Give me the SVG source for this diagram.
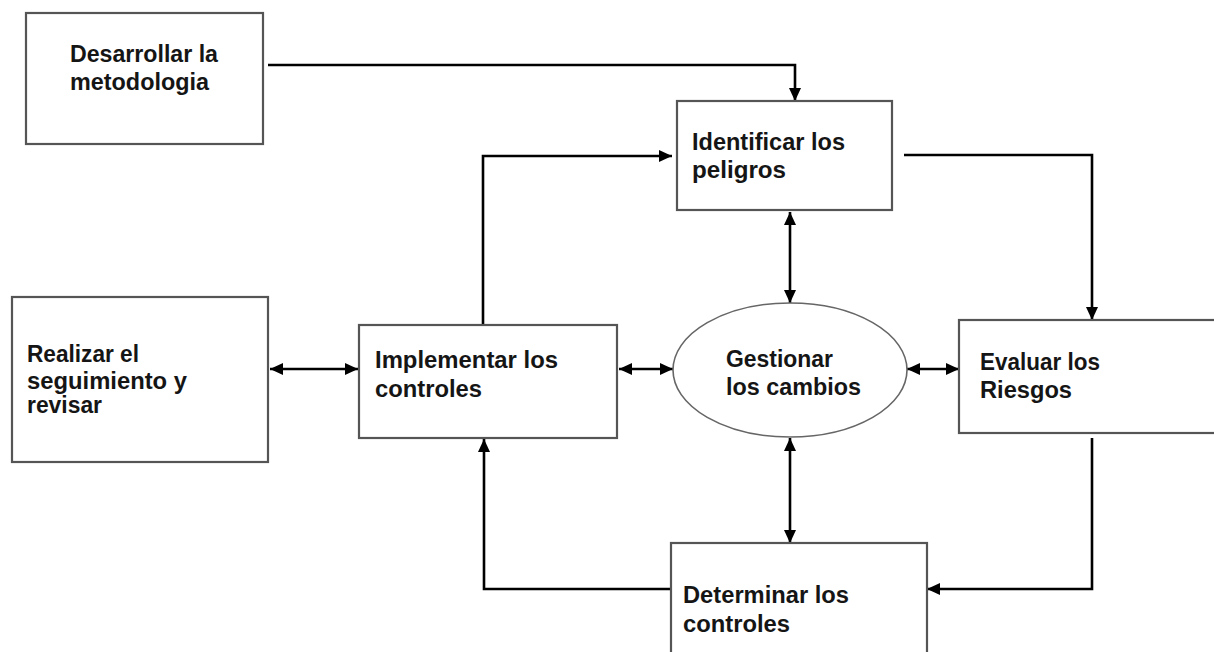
<svg xmlns="http://www.w3.org/2000/svg" width="1214" height="652" viewBox="0 0 1214 652">
<style>
.box{fill:#fff;stroke:#555;stroke-width:2.2}
.ell{fill:#fff;stroke:#666;stroke-width:1.6}
.t{font-family:"Liberation Sans",Arial,sans-serif;font-weight:bold;font-size:23px;fill:#151515}
.c{fill:none;stroke:#000;stroke-width:2.6}
.one{marker-end:url(#ah)}
.two{marker-start:url(#ah);marker-end:url(#ah)}
</style>
<defs>
<marker id="ah" viewBox="0 0 13 12" refX="13" refY="6" markerWidth="13" markerHeight="12" markerUnits="userSpaceOnUse" orient="auto-start-reverse">
<path d="M0,0 L13,6 L0,12 z" fill="#000"/>
</marker>
</defs>
<rect width="1214" height="652" fill="#fff"/>
<g id="connectors">
<path class="c one" d="M268,65 H795 V101"/>
<path class="c one" d="M483,325 V156 H672"/>
<path class="c one" d="M904,155 H1092 V320"/>
<path class="c one" d="M1092,438 V589 H927"/>
<path class="c one" d="M671,589 H484 V439"/>
<path class="c two" d="M790,212 V303"/>
<path class="c two" d="M790,438 V543"/>
<path class="c two" d="M619,369 H673"/>
<path class="c two" d="M907,369 H959"/>
<path class="c two" d="M270,369 H358"/>
</g>
<g id="n-desarrollar">
<rect class="box" x="26" y="13" width="237" height="131"/>
<text class="t" x="70" y="62" textLength="148" lengthAdjust="spacingAndGlyphs">Desarrollar la</text>
<text class="t" x="70" y="90" textLength="139" lengthAdjust="spacingAndGlyphs">metodologia</text>
</g>
<g id="n-identificar">
<rect class="box" x="677" y="101" width="215" height="109"/>
<text class="t" x="692" y="150" textLength="153" lengthAdjust="spacingAndGlyphs">Identificar los</text>
<text class="t" x="692" y="178" textLength="94" lengthAdjust="spacingAndGlyphs">peligros</text>
</g>
<g id="n-realizar">
<rect class="box" x="12" y="297" width="256" height="165"/>
<text class="t" x="27" y="362" textLength="112" lengthAdjust="spacingAndGlyphs">Realizar el</text>
<text class="t" x="27" y="389" textLength="160" lengthAdjust="spacingAndGlyphs">seguimiento y</text>
<text class="t" x="27" y="413" textLength="75" lengthAdjust="spacingAndGlyphs">revisar</text>
</g>
<g id="n-implementar">
<rect class="box" x="359" y="325" width="258" height="113"/>
<text class="t" x="375" y="368" textLength="183" lengthAdjust="spacingAndGlyphs">Implementar los</text>
<text class="t" x="375" y="397" textLength="107" lengthAdjust="spacingAndGlyphs">controles</text>
</g>
<g id="n-gestionar">
<ellipse class="ell" cx="790" cy="370" rx="117" ry="67"/>
<text class="t" x="726" y="367" textLength="107" lengthAdjust="spacingAndGlyphs">Gestionar</text>
<text class="t" x="726" y="395" textLength="135" lengthAdjust="spacingAndGlyphs">los cambios</text>
</g>
<g id="n-evaluar">
<rect class="box" x="959" y="320" width="270" height="113"/>
<text class="t" x="980" y="370" textLength="120" lengthAdjust="spacingAndGlyphs">Evaluar los</text>
<text class="t" x="980" y="398" textLength="92" lengthAdjust="spacingAndGlyphs">Riesgos</text>
</g>
<g id="n-determinar">
<rect class="box" x="671" y="543" width="256" height="130"/>
<text class="t" x="683" y="603" textLength="166" lengthAdjust="spacingAndGlyphs">Determinar los</text>
<text class="t" x="683" y="632" textLength="107" lengthAdjust="spacingAndGlyphs">controles</text>
</g>
</svg>
